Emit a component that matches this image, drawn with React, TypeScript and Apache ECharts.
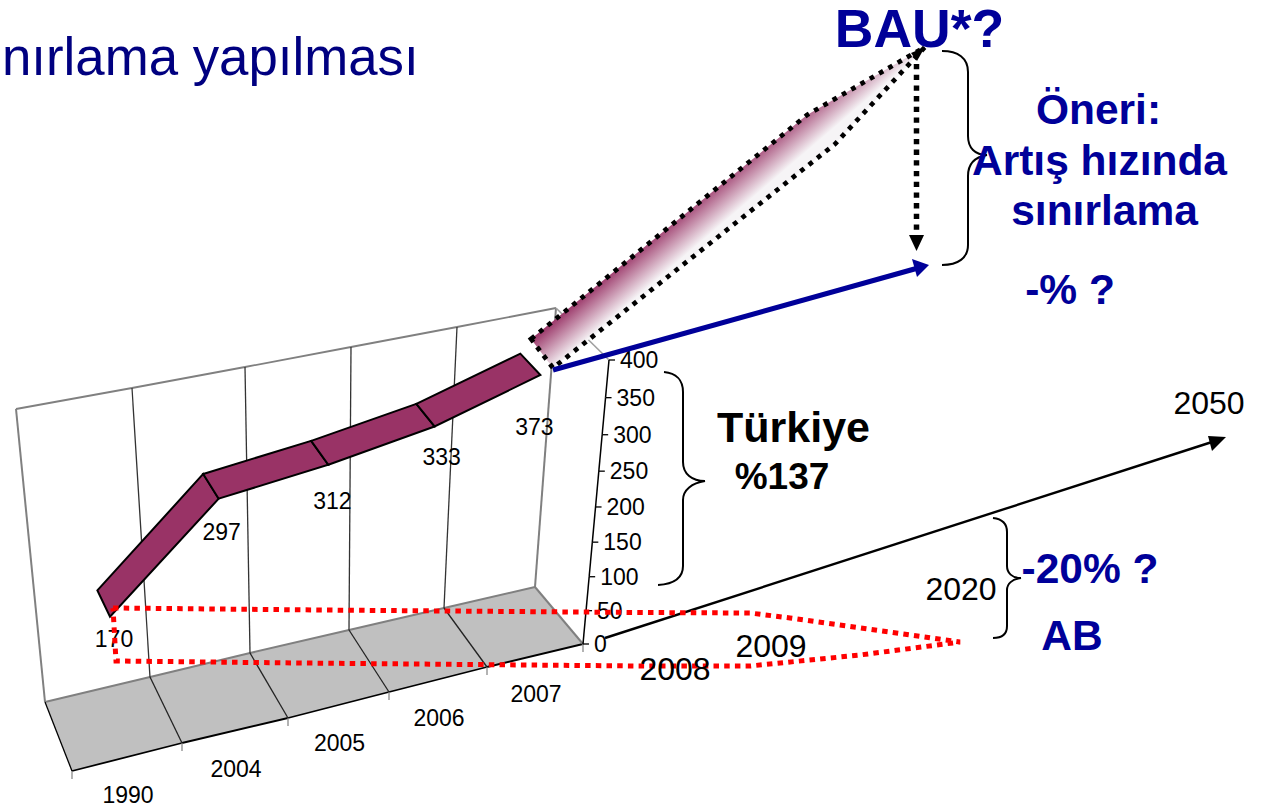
import React, { useEffect, useRef } from "react";
import * as echarts from "echarts";

// ---------- data ----------
const categories = ["1990", "2004", "2005", "2006", "2007"];
const values = [170, 297, 312, 333, 373];
const valueTicks = [0, 50, 100, 150, 200, 250, 300, 350, 400];
const futureYears = ["2008", "2009", "2020", "2050"];

// ---------- layout of the tilted chart box ----------
const FONT = "'Liberation Sans', Arial, sans-serif";
const BLUE = "#000099";
const PURPLE = "#993366";
const backFloor = [[45, 702], [150, 677], [250, 653], [349, 630], [444, 608], [535, 587]];
const frontFloor = [[72, 771], [182, 743], [288, 718], [389, 692], [487, 667], [583, 644]];
const wallTop = [[16, 409], [132, 388], [245, 367], [351, 347], [457, 327], [556, 308]];
const labelShift = [[4, 22], [3, 33], [4, 36], [7, 31], [-6, 52]];
const ribbonNear = 0.7;
const ribbonFar = 0.3;

const pick = (table: number[][], u: number) => {
  const t = Math.max(0, Math.min(table.length - 1.000001, u * (table.length - 1)));
  const i = Math.floor(t);
  const f = t - i;
  return [table[i][0] + (table[i + 1][0] - table[i][0]) * f, table[i][1] + (table[i + 1][1] - table[i][1]) * f];
};

// u: 0..1 along the categories, v: 0..1 along the values, d: 0 at the wall, 1 at the front
const project = (u: number, v: number, d: number) => {
  const b = pick(backFloor, u);
  const f = pick(frontFloor, u);
  const t = pick(wallTop, u);
  const h = v * (1 - 0.07 * (1 - v));
  return [
    b[0] + (f[0] - b[0]) * d + ((t[0] - b[0]) + 5 * d) * h,
    b[1] + (f[1] - b[1]) * d + ((t[1] - b[1]) - 5 * d) * h,
  ];
};

const toUnit = (params: any, p: number[]) => {
  const r = params.coordSys;
  return [(p[0] - r.x) / r.width, (r.y + r.height - p[1]) / r.height];
};

const seg = (a: number[], b: number[], stroke: string, lineWidth: number) => ({
  type: "line",
  shape: { x1: a[0], y1: a[1], x2: b[0], y2: b[1] },
  style: { stroke, lineWidth, fill: "none" },
});

const label = (text: string, x: number, y: number, align = "center", size = 23) => ({
  type: "text",
  style: { text, x, y, fill: "#000", font: `${size}px ${FONT}`, textAlign: align, textVerticalAlign: "middle" },
});

const renderFrame = (params: any, api: any) => {
  const i = api.value(0);
  const c = toUnit(params, api.coord([i, 0]));
  const half = api.size([1, 0])[0] / 2 / params.coordSys.width;
  const u0 = c[0] - half;
  const u1 = c[0] + half;
  const children: any[] = [
    {
      type: "polygon",
      shape: { points: [project(u0, 0, 0), project(u1, 0, 0), project(u1, 0, 1), project(u0, 0, 1)] },
      style: { fill: "#c0c0c0", stroke: "none" },
    },
    seg(project(u0, 0, 0), project(u1, 0, 0), "#808080", 2),
    seg(project(u0, 1, 0), project(u1, 1, 0), "#808080", 1.8),
    seg(project(u0, 0, 1), project(u1, 0, 1), "#000", 1.8),
    seg(project(u0, 0, 0), project(u0, 1, 0), i === 0 ? "#808080" : "#333", i === 0 ? 2 : 1.3),
    seg(project(u0, 0, 0), project(u0, 0, 1), i === 0 ? "#000" : "#222", 1.3),
  ];
  const fr = project(u0, 0, 1);
  children.push(seg(fr, [fr[0], fr[1] + 8], "#808080", 1.2));
  if (i === categories.length - 1) {
    children.push(seg(project(u1, 0, 0), project(u1, 1, 0), "#808080", 2));
    children.push(seg(project(u1, 0, 0), project(u1, 0, 1), "#808080", 2));
    children.push(seg(project(u1, 1, 0), project(u1, 1, 1), "#a0a0a0", 1.6));
    const end = project(u1, 0, 1);
    children.push(seg(end, [end[0], end[1] + 8], "#808080", 1.2));
  }
  const mid = project(c[0], 0, 1);
  children.push(label(categories[i], mid[0] + 1, mid[1] + 38));
  return { type: "group", children };
};

const renderRibbon = (params: any, api: any) => {
  const a = toUnit(params, api.coord([api.value(0), api.value(1)]));
  const b = toUnit(params, api.coord([api.value(2), api.value(3)]));
  return {
    type: "polygon",
    shape: {
      points: [
        project(a[0], a[1], ribbonFar),
        project(b[0], b[1], ribbonFar),
        project(b[0], b[1], ribbonNear),
        project(a[0], a[1], ribbonNear),
      ],
    },
    style: { fill: PURPLE, stroke: "#000", lineWidth: 2, lineJoin: "miter" },
  };
};

const renderValueLabel = (params: any, api: any) => {
  const i = api.value(0);
  const a = toUnit(params, api.coord([i, api.value(1)]));
  const p = project(a[0], a[1], ribbonNear);
  return label(String(values[i]), p[0] + labelShift[i][0], p[1] + labelShift[i][1]);
};

const renderValueAxis = (params: any, api: any) => {
  const t = api.value(1);
  const a = toUnit(params, api.coord([0, t]));
  const p = project(1, a[1], 1);
  const children: any[] = [seg(p, [p[0] + 6, p[1]], "#000", 1.3), label(String(t), p[0] + 11, p[1], "left")];
  if (t > 0) {
    const q = toUnit(params, api.coord([0, t - 50]));
    children.push(seg(p, project(1, q[1], 1), "#000", 1.5));
  }
  return { type: "group", children };
};

// ---------- annotation shapes ----------
const braceBAU = "M942 51 C958 51 968 58 968 72 L968 136 C968 148 975 155 987 155 C975 157 968 163 968 176 L968 245 C968 258 958 265 942 265";
const braceTR = "M664 372 C676 373 683 380 683 392 L683 462 C683 474 692 481 705 481 C692 483 683 490 683 500 L683 566 C683 578 674 584 658 585";
const braceAB = "M993 518 C1002 519 1007 523 1007 532 L1007 566 C1007 573 1012 578 1021 578 C1012 579 1007 584 1007 590 L1007 626 C1007 634 1002 638 993 638";
echarts.graphic.registerShape("braceBAU", echarts.graphic.extendPath(braceBAU, {}));
echarts.graphic.registerShape("braceTR", echarts.graphic.extendPath(braceTR, {}));
echarts.graphic.registerShape("braceAB", echarts.graphic.extendPath(braceAB, {}));

const txt = (text: string, x: number, y: number, size: number, fill: string, weight = "bold", align = "center", z = 30) => ({
  type: "text",
  z,
  silent: true,
  style: { text, x, y, fill, font: `${weight} ${size}px ${FONT}`, textAlign: align, textVerticalAlign: "middle" },
});

const poly = (points: number[][], fill: string, z = 20) => ({
  type: "polygon",
  z,
  silent: true,
  shape: { points },
  style: { fill, stroke: "none" },
});

const graphics: any[] = [
  // forecast wedge with its dotted outline
  {
    type: "polygon",
    z: 10,
    silent: true,
    shape: { points: [[531, 339], [807, 115], [925, 47], [835, 144], [553, 368]] },
    style: {
      fill: {
        type: "linear",
        x: 531,
        y: 339,
        x2: 555,
        y2: 367,
        global: true,
        colorStops: [
          { offset: 0, color: PURPLE },
          { offset: 1, color: "#f6f4f6" },
        ],
      },
      stroke: "#000",
      lineWidth: 4.7,
      lineDash: [4.7, 6],
    },
  },
  // blue arrow
  {
    type: "line",
    z: 20,
    silent: true,
    shape: { x1: 553, y1: 370, x2: 918, y2: 268 },
    style: { stroke: BLUE, lineWidth: 5 },
  },
  poly([[929, 265], [912, 259], [917, 277]], BLUE),
  // dotted arrow
  {
    type: "line",
    z: 20,
    silent: true,
    shape: { x1: 916.5, y1: 64, x2: 916.5, y2: 236 },
    style: { stroke: "#000", lineWidth: 5.5, lineDash: [5.3, 5.4] },
  },
  poly([[909, 235], [924, 235], [916.5, 251]], "#000"),
  poly([[925, 47], [911, 53], [917, 61]], "#000"),
  // long black arrow
  {
    type: "line",
    z: 20,
    silent: true,
    shape: { x1: 605, y1: 638, x2: 1212, y2: 442 },
    style: { stroke: "#000", lineWidth: 2.4 },
  },
  poly([[1226, 437], [1208, 436], [1212, 451]], "#000"),
  // red dotted outline
  {
    type: "polyline",
    z: 22,
    silent: true,
    shape: {
      points: [[113, 608], [320, 610], [640, 612.5], [750, 613], [790, 618], [960, 642], [860, 655], [750, 666], [640, 666], [300, 663], [116, 661], [113, 608]],
    },
    style: { stroke: "#ff0000", lineWidth: 5, lineDash: [5.5, 5.2], fill: "none" },
  },
  // braces
  { type: "braceBAU", z: 24, silent: true, style: { fill: "none", stroke: "#000", lineWidth: 2 } },
  { type: "braceTR", z: 24, silent: true, style: { fill: "none", stroke: "#000", lineWidth: 2 } },
  { type: "braceAB", z: 24, silent: true, style: { fill: "none", stroke: "#000", lineWidth: 2 } },
  // texts
  txt("nırlama yapılması", 2, 56, 52.8, "#000080", "normal", "left"),
  txt("BAU*?", 919.5, 28, 53.5, BLUE),
  txt("Öneri:", 1098.5, 109, 42.5, BLUE),
  txt("Artış hızında", 1099.5, 160, 42.5, BLUE),
  txt("sınırlama", 1104.5, 210, 42.5, BLUE),
  txt("-% ?", 1070, 289, 42.5, BLUE),
  txt("Türkiye", 793.5, 427, 43, "#000"),
  txt("%137", 782, 476, 37, "#000"),
  txt("-20% ?", 1090, 568, 42.5, BLUE),
  txt("AB", 1072, 635, 42.5, BLUE),
  txt(futureYears[0], 675, 669, 32, "#000", "normal"),
  txt(futureYears[1], 771, 646, 32, "#000", "normal"),
  txt(futureYears[2], 961, 589, 32, "#000", "normal"),
  txt(futureYears[3], 1209, 403, 32, "#000", "normal"),
];

export default function App() {
  const ref = useRef<HTMLDivElement>(null);
  useEffect(() => {
    const chart = echarts.init(ref.current!, undefined, { renderer: "svg" });
    chart.setOption({
      animation: false,
      backgroundColor: "#ffffff",
      grid: { left: 100, right: 100, top: 100, bottom: 100 },
      xAxis: { type: "category", data: categories, show: false },
      yAxis: { type: "value", min: 0, max: 400, interval: 50, show: false },
      series: [
        {
          type: "custom",
          name: "frame",
          z: 2,
          silent: true,
          clip: false,
          encode: { x: 0, y: 1 },
          data: categories.map((_, i) => [i, 0]),
          renderItem: renderFrame,
        },
        {
          type: "custom",
          name: "axis",
          z: 3,
          silent: true,
          clip: false,
          encode: { x: 0, y: 1 },
          data: valueTicks.map((t) => [0, t]),
          renderItem: renderValueAxis,
        },
        {
          type: "custom",
          name: "Türkiye",
          z: 4,
          silent: true,
          clip: false,
          encode: { x: 0, y: 1 },
          data: values.slice(0, -1).map((v, i) => [i, v, i + 1, values[i + 1]]),
          renderItem: renderRibbon,
        },
        {
          type: "custom",
          name: "labels",
          z: 5,
          silent: true,
          clip: false,
          encode: { x: 0, y: 1 },
          data: values.map((v, i) => [i, v]),
          renderItem: renderValueLabel,
        },
      ],
      graphic: { elements: graphics },
    });
    return () => chart.dispose();
  }, []);
  return <div ref={ref} style={{ position: "absolute", left: 0, top: 0, width: 1268, height: 807 }} />;
}
